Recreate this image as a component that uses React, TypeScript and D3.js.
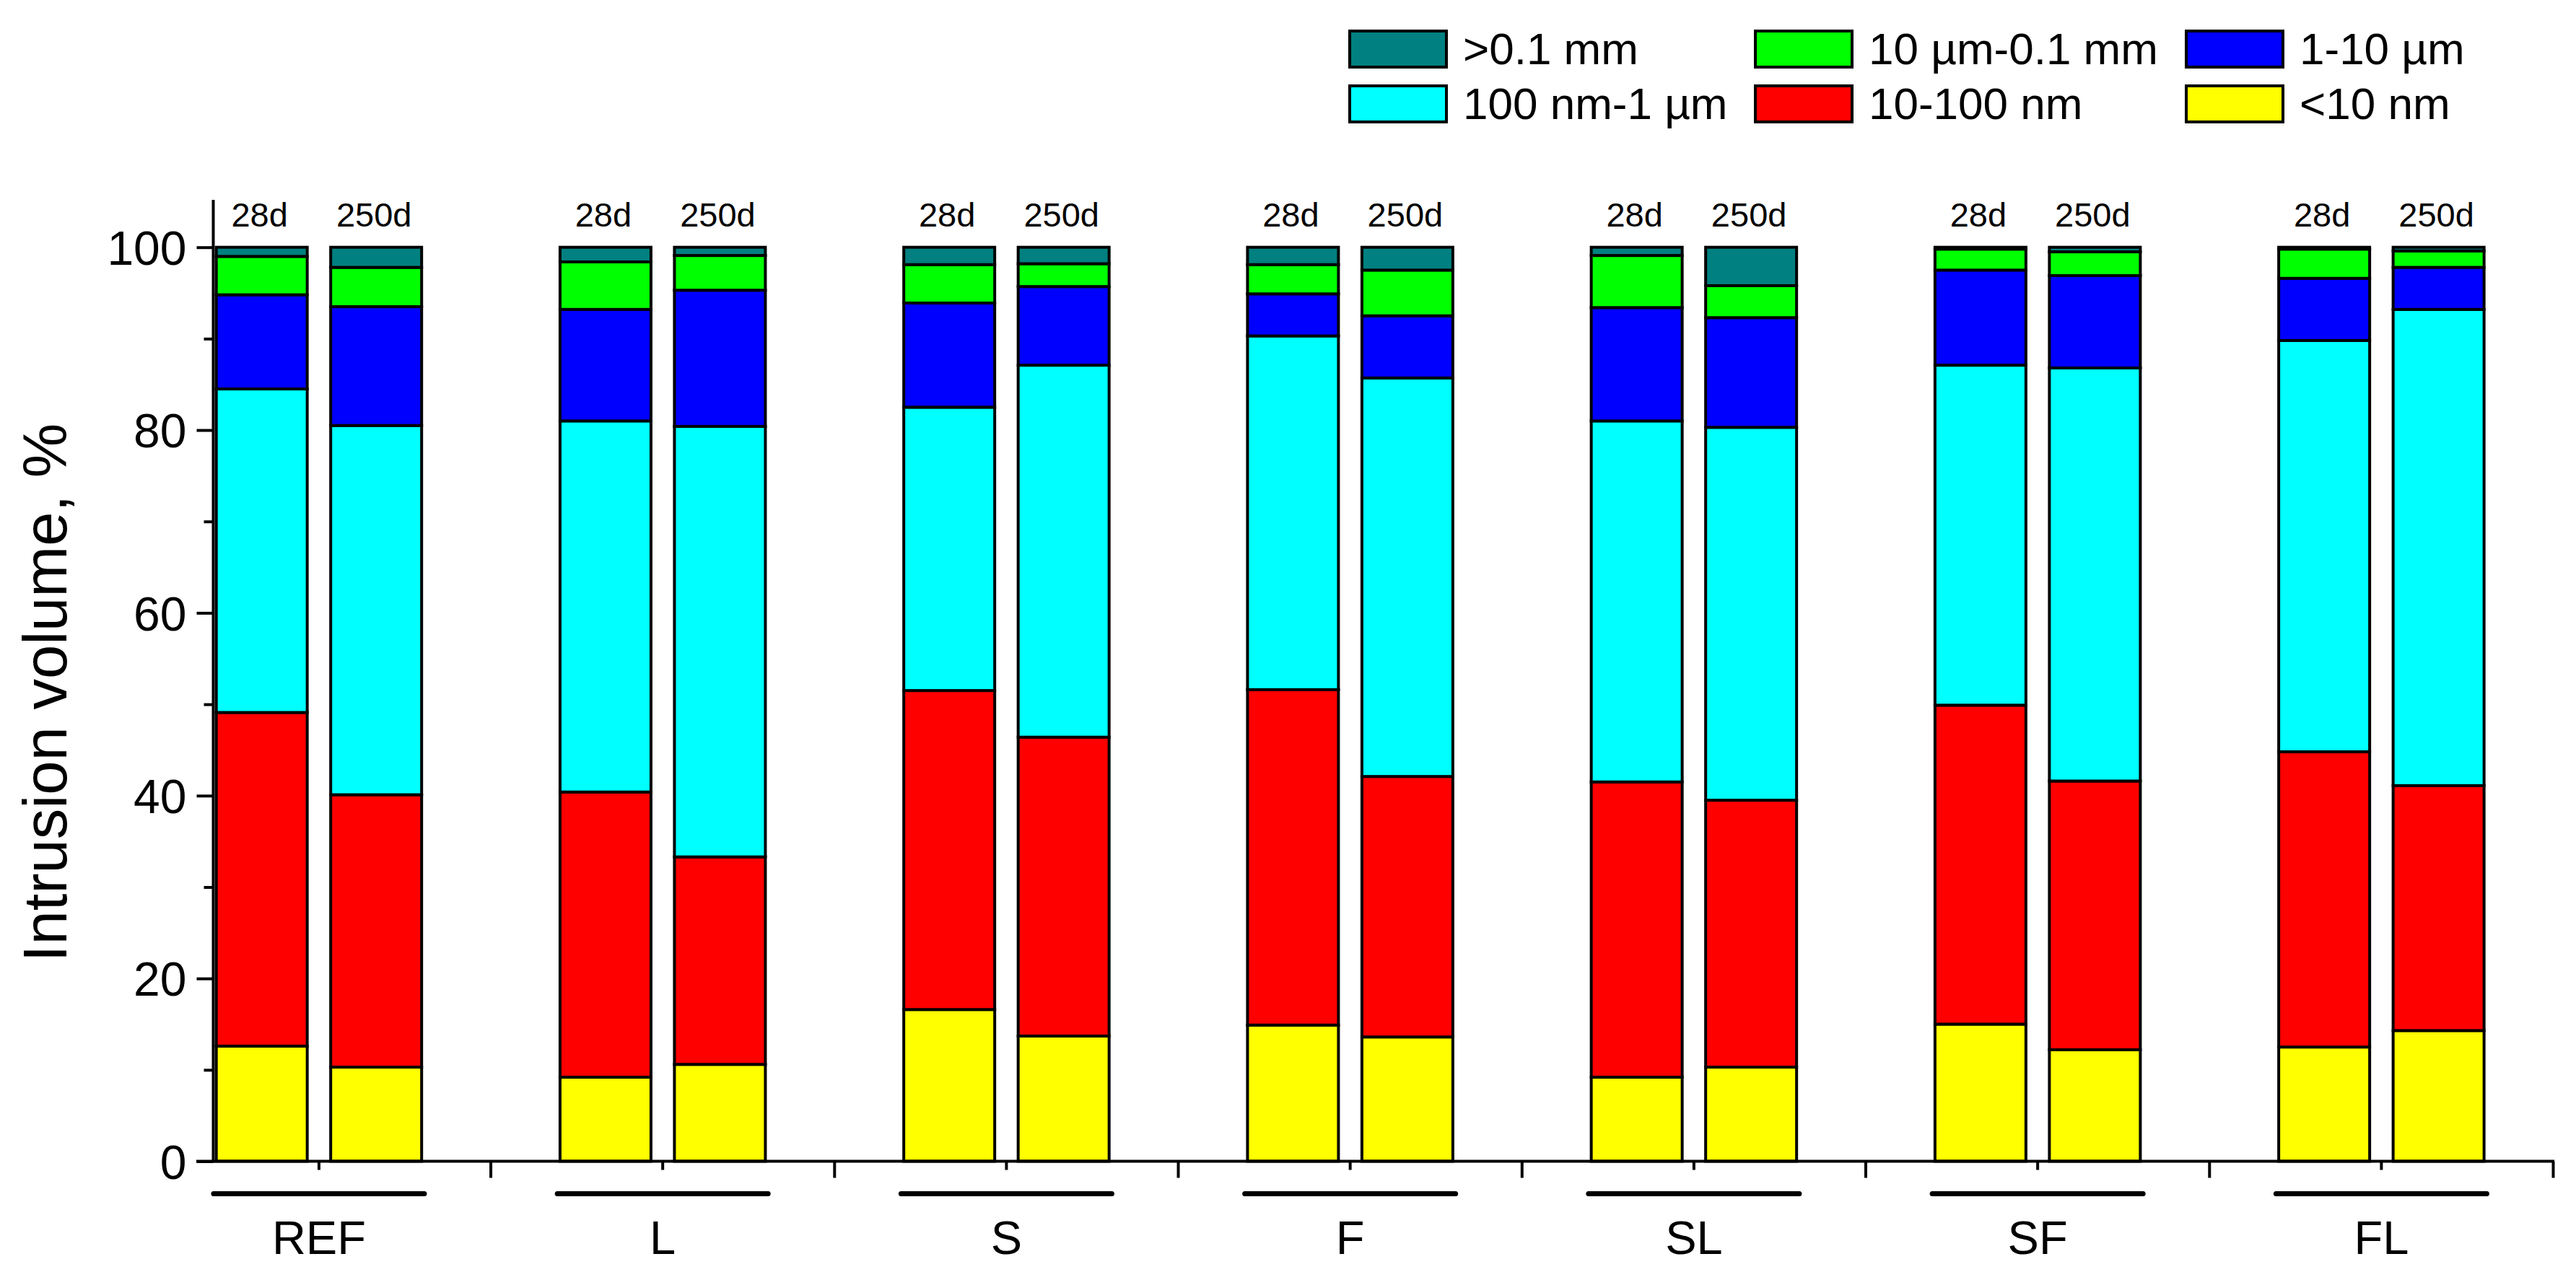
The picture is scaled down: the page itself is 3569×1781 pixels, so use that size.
import { useEffect, useRef } from 'react'
import * as d3 from 'd3'

const groups = ['REF', 'L', 'S', 'F', 'SL', 'SF', 'FL']
const ages = ['28d', '250d']
const sizeClasses = ['<10 nm', '10-100 nm', '100 nm-1 µm', '1-10 µm', '10 µm-0.1 mm', '>0.1 mm']
const classColors = ['#ffff00', '#ff0000', '#00ffff', '#0000ff', '#00ff00', '#008080']

// Values in bar order: REF 28d, REF 250d, L 28d, L 250d, ...
const below10nm = [12.6, 10.3, 9.2, 10.6, 16.6, 13.7, 14.9, 13.6, 9.2, 10.3, 15.0, 12.2, 12.5, 14.3]
const nm10to100 = [36.5, 29.8, 31.2, 22.7, 34.9, 32.7, 36.7, 28.5, 32.3, 29.2, 34.9, 29.4, 32.3, 26.8]
const nm100to1um = [35.4, 40.4, 40.6, 47.1, 31.0, 40.7, 38.7, 43.6, 39.5, 40.8, 37.2, 45.2, 45.0, 52.1]
const um1to10 = [10.3, 13.0, 12.2, 14.9, 11.4, 8.6, 4.6, 6.8, 12.4, 12.0, 10.4, 10.1, 6.8, 4.6]
const um10to01mm = [4.2, 4.3, 5.2, 3.8, 4.2, 2.5, 3.2, 5.0, 5.7, 3.5, 2.3, 2.6, 3.2, 1.8]
const above01mm = [1.0, 2.2, 1.6, 0.9, 1.9, 1.8, 1.9, 2.5, 0.9, 4.2, 0.2, 0.5, 0.2, 0.4]

const seriesValues = [below10nm, nm10to100, nm100to1um, um1to10, um10to01mm, above01mm]

// legend layout order (rows of three)
const legendOrder = ['>0.1 mm', '10 µm-0.1 mm', '1-10 µm', '100 nm-1 µm', '10-100 nm', '<10 nm']

const yMajorTicks = [0, 20, 40, 60, 80, 100]
const yMinorTicks = [10, 30, 50, 70, 90]

const FONT = '"Liberation Sans", Arial, Helvetica, sans-serif'

export default function App() {
  const svgRef = useRef<SVGSVGElement>(null)

  useEffect(() => {
    if (!svgRef.current) return
    const svg = d3.select(svgRef.current)
    svg.selectAll('*').remove()

    const width = 3569
    const height = 1781
    const axisX = 295.5
    const axisTop = 277
    const axisRight = 3539

    svg.attr('width', width).attr('height', height)

    type Row = { group: string; age: string; [k: string]: number | string }
    const rows: Row[] = []
    groups.forEach((g, gi) => {
      ages.forEach((a, ai) => {
        const r: Row = { group: g, age: a }
        sizeClasses.forEach((c, ci) => {
          r[c] = seriesValues[ci][gi * ages.length + ai]
        })
        rows.push(r)
      })
    })

    const stack = d3.stack<Row>().keys(sizeClasses).value((d, k) => d[k] as number)
    const stacked = stack(rows)

    // Scales
    const y = d3.scaleLinear().domain([0, 100]).range([1609.5, 342.7])
    const x = d3.scaleBand<string>().domain(groups).range([203.8, 3537.5]).padding(0)
    const step = x.step()
    const inner = d3
      .scaleBand<string>()
      .domain(ages)
      .range([0, 317])
      .paddingInner(0.205)
      .paddingOuter(0.1025)
    const groupCenter = (g: string) => (x(g) as number) + step / 2
    const barX = (d: Row) => groupCenter(d.group) - 158.5 + (inner(d.age) as number)

    // Bars
    const layer = svg
      .append('g')
      .selectAll('g')
      .data(stacked)
      .enter()
      .append('g')
      .attr('fill', (_, i) => classColors[i])

    layer
      .selectAll('rect')
      .data((s) => s.map((p) => ({ p, row: p.data })))
      .enter()
      .append('rect')
      .attr('x', (d) => barX(d.row))
      .attr('width', inner.bandwidth())
      .attr('y', (d) => y(d.p[1]))
      .attr('height', (d) => y(d.p[0]) - y(d.p[1]))
      .attr('stroke', '#000')
      .attr('stroke-width', 4)

    // Y axis
    const yAxisG = svg.append('g').attr('transform', `translate(${axisX},0)`)
    yAxisG
      .call(
        d3
          .axisLeft(y)
          .tickValues(yMajorTicks)
          .tickSize(23)
          .tickPadding(14)
          .tickFormat(d3.format('d'))
      )
      .call((g) => g.select('.domain').remove())
    yAxisG.selectAll('line').attr('stroke', '#000').attr('stroke-width', 4)
    yAxisG
      .selectAll('text')
      .attr('font-family', FONT)
      .attr('font-size', 66)
      .attr('fill', '#000')
      .attr('dy', '0.36em')

    const yMinorG = svg.append('g').attr('transform', `translate(${axisX},0)`)
    yMinorG
      .call(d3.axisLeft(y).tickValues(yMinorTicks).tickSize(13).tickFormat(() => ''))
      .call((g) => g.select('.domain').remove())
    yMinorG.selectAll('line').attr('stroke', '#000').attr('stroke-width', 4)

    svg
      .append('line')
      .attr('x1', axisX)
      .attr('x2', axisX)
      .attr('y1', axisTop)
      .attr('y2', y(0) + 2)
      .attr('stroke', '#000')
      .attr('stroke-width', 4)

    // X axis
    svg
      .append('line')
      .attr('x1', 272)
      .attr('x2', axisRight)
      .attr('y1', y(0))
      .attr('y2', y(0))
      .attr('stroke', '#000')
      .attr('stroke-width', 4)

    svg
      .append('g')
      .selectAll('line.major')
      .data(groups)
      .enter()
      .append('line')
      .attr('x1', (g) => (x(g) as number) + step)
      .attr('x2', (g) => (x(g) as number) + step)
      .attr('y1', y(0))
      .attr('y2', y(0) + 23)
      .attr('stroke', '#000')
      .attr('stroke-width', 4)

    svg
      .append('g')
      .selectAll('line.minor')
      .data(groups)
      .enter()
      .append('line')
      .attr('x1', groupCenter)
      .attr('x2', groupCenter)
      .attr('y1', y(0))
      .attr('y2', y(0) + 12)
      .attr('stroke', '#000')
      .attr('stroke-width', 4)

    // Group underlines and labels
    svg
      .append('g')
      .selectAll('line')
      .data(groups)
      .enter()
      .append('line')
      .attr('x1', (g) => groupCenter(g) - 146)
      .attr('x2', (g) => groupCenter(g) + 146)
      .attr('y1', 1654.5)
      .attr('y2', 1654.5)
      .attr('stroke', '#000')
      .attr('stroke-width', 7)
      .attr('stroke-linecap', 'round')

    svg
      .append('g')
      .selectAll('text')
      .data(groups)
      .enter()
      .append('text')
      .attr('x', groupCenter)
      .attr('y', 1738)
      .attr('text-anchor', 'middle')
      .attr('font-family', FONT)
      .attr('font-size', 65)
      .text((g) => g)

    // Age labels above each bar
    svg
      .append('g')
      .selectAll('text')
      .data(rows)
      .enter()
      .append('text')
      .attr('x', (d) => barX(d) + inner.bandwidth() / 2 - 3)
      .attr('y', 314)
      .attr('text-anchor', 'middle')
      .attr('font-family', FONT)
      .attr('font-size', 47)
      .text((d) => d.age)

    // Y axis title
    svg
      .append('text')
      .attr('transform', 'translate(92,960) rotate(-90)')
      .attr('text-anchor', 'middle')
      .attr('font-family', FONT)
      .attr('font-size', 85)
      .text('Intrusion volume, %')

    // Legend
    const legendCols = [1870, 2432, 3029]
    const legendRows = [43, 119]
    const legend = svg
      .append('g')
      .selectAll('g')
      .data(legendOrder)
      .enter()
      .append('g')
      .attr(
        'transform',
        (_, i) => `translate(${legendCols[i % 3]},${legendRows[Math.floor(i / 3)]})`
      )
    legend
      .append('rect')
      .attr('width', 134)
      .attr('height', 50)
      .attr('fill', (d) => classColors[sizeClasses.indexOf(d)])
      .attr('stroke', '#000')
      .attr('stroke-width', 4)
    legend
      .append('text')
      .attr('x', 157)
      .attr('y', 46)
      .attr('font-family', FONT)
      .attr('font-size', 62)
      .text((d) => d)
  }, [])

  return (
    <div style={{ position: 'absolute', left: 0, top: 0, background: '#fff' }}>
      <svg ref={svgRef}></svg>
    </div>
  )
}
